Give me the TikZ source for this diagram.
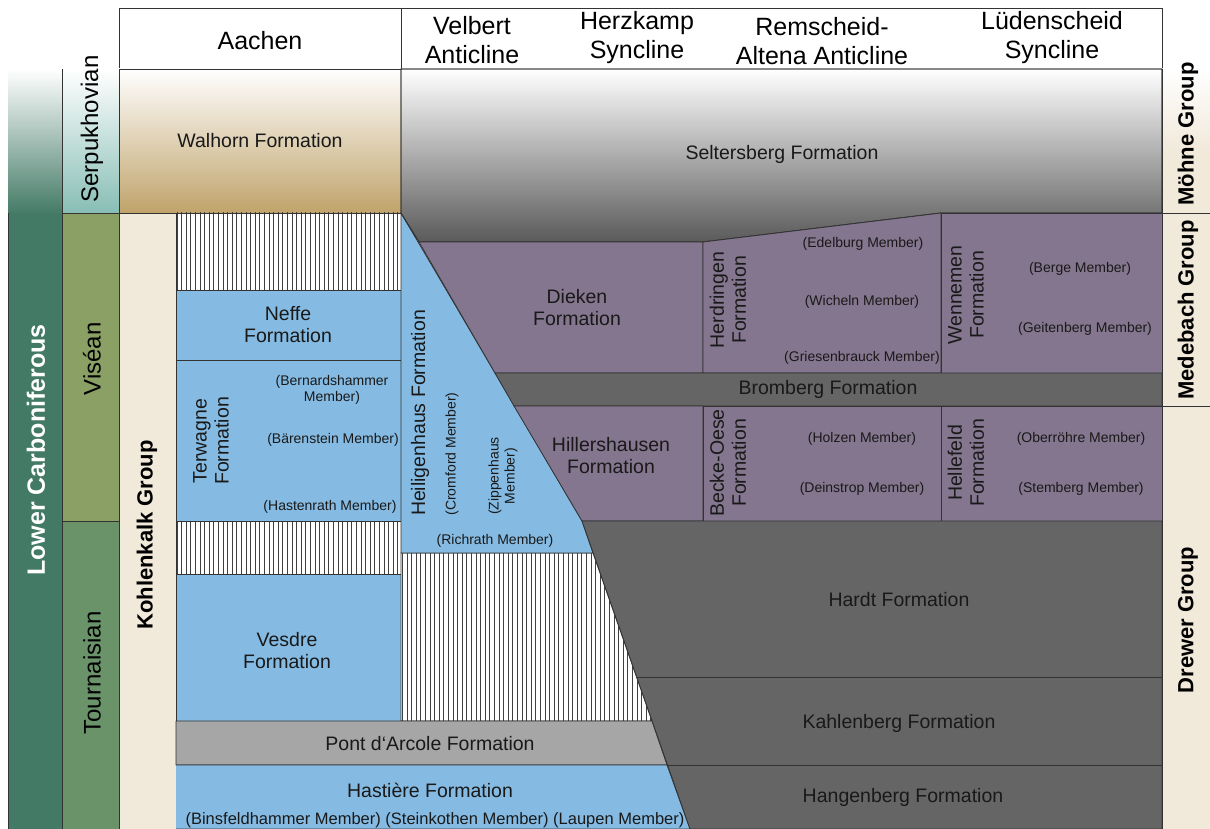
\documentclass[tikz,border=0pt]{standalone}
\usepackage{fontspec}
\setsansfont{Liberation Sans}
\usetikzlibrary{calc}
\usepackage{xcolor}

% Colours
\definecolor{blueFm}{HTML}{85BBE3}
\definecolor{purpleFm}{HTML}{84768E}
\definecolor{darkFm}{HTML}{656565}
\definecolor{greyFm}{HTML}{A6A6A6}
\definecolor{beigeGrp}{HTML}{F1E9DA}
\definecolor{walhornFm}{HTML}{C0A36A}
\definecolor{seltFm}{HTML}{5A5A5A}
\definecolor{lowerCarb}{HTML}{437A66}
\definecolor{serpSt}{HTML}{87BEB5}
\definecolor{viseSt}{HTML}{8AA064}
\definecolor{tournSt}{HTML}{6A936A}

\tikzset{
    font=\sffamily,
    % Cells
    cell/.style={draw=black!80, line width=0.8pt},
    fmBlue/.style={cell, fill=blueFm},
    fmPurple/.style={cell, fill=purpleFm},
    fmDark/.style={cell, fill=darkFm},
    fmGrey/.style={cell, fill=greyFm},
    hatchln/.style={line width=0.75pt, black!75},
    % Labels
    head/.style={font=\fontsize{25}{29}\selectfont\sffamily, align=center, inner sep=0pt},
    stage/.style={font=\fontsize{24}{28}\selectfont\sffamily, rotate=90, inner sep=0pt},
    grp/.style={font=\fontsize{22}{26}\selectfont\sffamily\bfseries, rotate=90, inner sep=0pt},
    lbl/.style={font=\fontsize{19.5}{22}\selectfont\sffamily, align=center, text=black!90, inner sep=0pt},
    mbr/.style={font=\fontsize{14}{16}\selectfont\sffamily, align=center, text=black!90, inner sep=0pt},
    mbrBig/.style={mbr, font=\fontsize{16.5}{19}\selectfont\sffamily}
}

% vertical hatching clipped to a closed path
\newcommand{\hatchzone}[1]{%
  \begin{scope}
    \fill[white] #1;
    \clip #1;
    \foreach \x in {177,181.6,...,700} \draw[hatchln] (\x,200) -- (\x,829);
  \end{scope}
  \draw[cell] #1;
}

\begin{document}
\begin{tikzpicture}[x=1pt, y=-1pt]
\useasboundingbox (0,0) rectangle (1210,829);

% header
\draw[cell, fill=white] (119,8) rectangle (1162,69);
\draw[cell] (401,8) -- (401,69);
\node[head] (hAachen) at (260,41) {Aachen};
\node[head] (hVelbert) at (472,40) {Velbert\\Anticline};
\node[head] (hHerzkamp) at (637,38) {Herzkamp\\Syncline};
\node[head] (hRemscheid) at (822,41) {Remscheid-\\Altena Anticline};
\node[head] (hLuedenscheid) at (1052,38) {Lüdenscheid\\Syncline};

% system and stages
\shade[top color=white, bottom color=lowerCarb] (8,69) rectangle (62,214);
\fill[lowerCarb] (8,213) rectangle (62,829);
\draw[cell] (8,213) -- (8,829);
\shade[top color=white, bottom color=serpSt] (62,69) rectangle (119,213);
\fill[viseSt] (62,213) rectangle (119,521);
\fill[tournSt] (62,521) rectangle (119,829);
\draw[cell] (62,69) -- (62,829);
\draw[cell] (62,213) -- (119,213);
\draw[cell] (62,521) -- (119,521);
\node[grp, text=white, font=\fontsize{25}{28}\selectfont\sffamily\bfseries] (lowcarb) at (36,450) {Lower Carboniferous};
\node[stage] (serp) at (92,129) {Serpukhovian};
\node[stage] (vise) at (92,359) {Viséan};
\node[stage] (tourn) at (92,673) {Tournaisian};

% groups
\fill[beigeGrp] (119,213) rectangle (176,829);
\draw[cell] (119,69) -- (119,829);
\node[grp] (kohlenkalk) at (147,535) {Kohlenkalk Group};
\shade[top color=white, bottom color=beigeGrp] (1162,69) rectangle (1210,150);
\fill[beigeGrp] (1162,149) rectangle (1210,829);
\draw[cell] (1162,213) -- (1210,213);
\draw[cell] (1162,406) -- (1210,406);
\node[grp] (moehne) at (1188,134) {Möhne Group};
\node[grp] (medebach) at (1188,310) {Medebach Group};
\node[grp] (drewer) at (1188,620) {Drewer Group};

% Aachen
\shade[top color=white, bottom color=walhornFm] (119,69) rectangle (401,213);
\draw[cell] (119,69) rectangle (401,213);
\node[lbl] (walhorn) at (260,141) {Walhorn Formation};
\hatchzone{(176,213) rectangle (401,290)}
\draw[fmBlue] (176,290) rectangle (401,360);
\node[lbl] (neffe) at (288,325) {Neffe\\Formation};
\draw[fmBlue] (176,360) rectangle (401,521);
\node[lbl, rotate=90] (terwagne) at (211,441) {Terwagne\\Formation};
\node[mbr] (bernard) at (332,390) {(Bernardshammer\\Member)};
\node[mbr] (baeren) at (333,440) {(Bärenstein Member)};
\node[mbr] (hasten) at (330,507) {(Hastenrath Member)};
\hatchzone{(176,521) rectangle (401,574)}
\draw[fmBlue] (176,574) rectangle (401,721);
\node[lbl] (vesdre) at (287,651) {Vesdre\\Formation};

% Velbert
\hatchzone{(401,553) -- (593,553) -- (652,721) -- (401,721) -- cycle}
\draw[fmBlue] (401,213) -- (582,521) -- (593,553) -- (401,553) -- cycle;
\node[lbl, rotate=90] (heiligenhaus) at (420,413) {Heiligenhaus Formation};
\node[mbr, rotate=90] (cromford) at (452,454) {(Cromford Member)};
\node[mbr, rotate=90] (zippenhaus) at (503,476) {(Zippenhaus\\Member)};
\node[mbr] (richrath) at (495,541) {(Richrath Member)};
\draw[fmGrey] (176,721) -- (652,721) -- (667,765) -- (176,765) -- cycle;
\node[lbl] (pontarcole) at (430,744) {Pont d‘Arcole Formation};
\draw[fmBlue] (176,765) -- (667,765) -- (690,829) -- (176,829);
\node[lbl] (hastiere) at (430,790) {Hastière Formation};
\node[mbrBig] (hastMbr) at (435,820) {(Binsfeldhammer Member) (Steinkothen Member) (Laupen Member)};

% Rhenish massif
\shade[cell, top color=white, bottom color=seltFm] (401,69) -- (1162,69) -- (1162,213) -- (941,213) -- (703,242) -- (419,242) -- (401,213) -- cycle;
\draw[cell] (401,69) -- (1162,69) -- (1162,213) -- (941,213) -- (703,242) -- (419,242) -- (401,213) -- cycle;
\node[lbl] (seltersberg) at (782,154) {Seltersberg Formation};
\draw[fmPurple] (419,242) -- (703,242) -- (703,373) -- (495,373) -- cycle;
\node[lbl] (dieken) at (577,308) {Dieken\\Formation};
\draw[fmPurple] (703,242) -- (941,213) -- (941,373) -- (703,373) -- cycle;
\node[lbl, rotate=90] (herdringen) at (728,300) {Herdringen\\Formation};
\node[mbr] (edelburg) at (863,244) {(Edelburg Member)};
\node[mbr] (wicheln) at (862,302) {(Wicheln Member)};
\node[mbr] (griesen) at (862,358) {(Griesenbrauck Member)};
\draw[fmPurple] (941,213) rectangle (1162,373);
\node[lbl, rotate=90] (wennemen) at (966,295) {Wennemen\\Formation};
\node[mbr] (berge) at (1080,269) {(Berge Member)};
\node[mbr] (geiten) at (1085,329) {(Geitenberg Member)};
\draw[fmDark] (495,373) -- (1162,373) -- (1162,406) -- (514,406) -- cycle;
\node[lbl] (bromberg) at (828,389) {Bromberg Formation};
\draw[fmPurple] (514,406) -- (703,406) -- (703,521) -- (582,521) -- cycle;
\node[lbl] (hillers) at (611,456) {Hillershausen\\Formation};
\draw[fmPurple] (703,406) rectangle (941,521);
\node[lbl, rotate=90] (beckeoese) at (728,463) {Becke-Oese\\Formation};
\node[mbr] (holzen) at (862,439) {(Holzen Member)};
\node[mbr] (deinstrop) at (862,489) {(Deinstrop Member)};
\draw[fmPurple] (941,406) rectangle (1162,521);
\node[lbl, rotate=90] (hellefeld) at (966,463) {Hellefeld\\Formation};
\node[mbr] (oberroehre) at (1081,439) {(Oberröhre Member)};
\node[mbr] (stemberg) at (1081,489) {(Stemberg Member)};
\draw[fmDark] (582,521) -- (1162,521) -- (1162,829) -- (690,829) -- cycle;
\draw[cell] (637,677) -- (1162,677);
\draw[cell] (667,765) -- (1162,765);
\node[lbl] (hardt) at (899,600) {Hardt Formation};
\node[lbl] (kahlenberg) at (899,723) {Kahlenberg Formation};
\node[lbl] (hangenberg) at (903,797) {Hangenberg Formation};

\draw[cell] (1162,69) -- (1162,829);
\end{tikzpicture}
\end{document}
